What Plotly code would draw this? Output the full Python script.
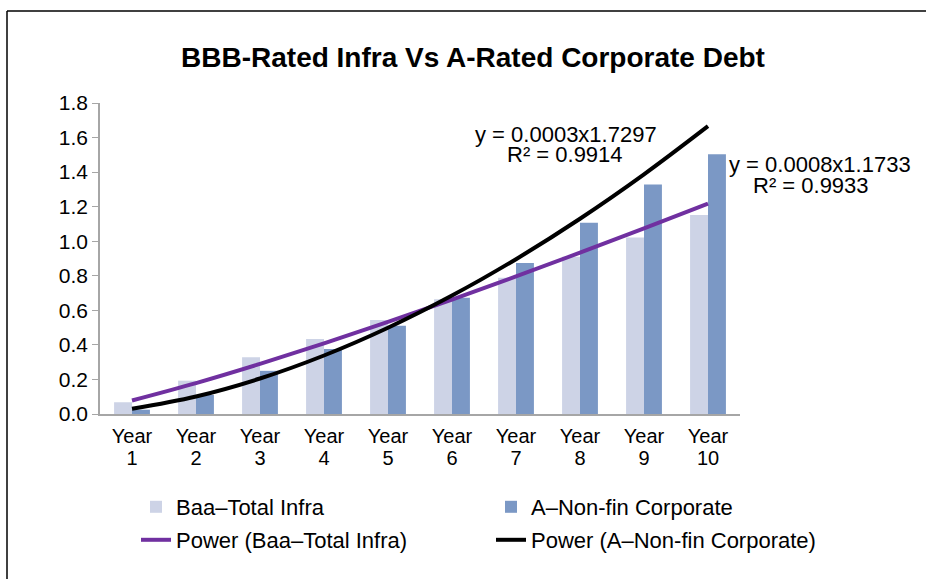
import numpy as np
import plotly.graph_objects as go

years = list(range(1, 11))
tick_word = ["Year"] * 10
tick_num = [str(i) for i in years]
baa_total_infra = [0.068, 0.193, 0.328, 0.434, 0.544, 0.664, 0.789, 0.910, 1.022, 1.152]
a_nonfin_corp = [0.025, 0.110, 0.250, 0.376, 0.511, 0.673, 0.874, 1.107, 1.329, 1.503]
y_ticks = [0.0, 0.2, 0.4, 0.6, 0.8, 1.0, 1.2, 1.4, 1.6, 1.8]
eq_a_lines = ["y = 0.0003x1.7297", "R² = 0.9914"]
eq_baa_lines = ["y = 0.0008x1.1733", "R² = 0.9933"]

FONT = "Liberation Sans, Arial, sans-serif"


def power_fit(x, y):
    b, ln_a = np.polyfit(np.log(x), np.log(y), 1)
    xs = np.array(x, dtype=float)
    return (np.exp(ln_a) * xs ** b).tolist()


fit_baa = power_fit(years, baa_total_infra)
fit_a = power_fit(years, a_nonfin_corp)

fig = go.Figure()
fig.add_trace(go.Bar(x=years, y=baa_total_infra, name="Baa–Total Infra",
                     marker=dict(color="#CDD3E6", line=dict(width=0)), legend="legend"))
fig.add_trace(go.Bar(x=years, y=a_nonfin_corp, name="A–Non-fin Corporate",
                     marker=dict(color="#7B98C5", line=dict(width=0)), legend="legend2"))
fig.add_trace(go.Scatter(x=years, y=fit_baa, mode="lines", name="Power (Baa–Total Infra)",
                         line=dict(color="#7030A0", width=4, shape="spline"), legend="legend3"))
fig.add_trace(go.Scatter(x=years, y=fit_a, mode="lines", name="Power (A–Non-fin Corporate)",
                         line=dict(color="#000000", width=4, shape="spline"), legend="legend4",
                         xaxis="x2"))

W, H = 926, 579
L, R, T, B = 100, W - 740, 103, H - 414
pw, ph = W - L - R, H - T - B


def px(x):
    return (x - L) / pw


def py(y):
    return (H - B - y) / ph


legend_font = dict(family=FONT, size=22, color="#000000")
leg_common = dict(font=legend_font, bgcolor="rgba(0,0,0,0)", yanchor="middle", xanchor="left",
                  itemwidth=30, borderwidth=0)
ann_font = dict(family=FONT, size=22, color="#000000")


def ann(text, x, y):
    return dict(text=text, x=px(x), y=py(y), xref="paper", yref="paper", showarrow=False,
                xanchor="center", yanchor="middle", font=ann_font)


fig.update_layout(
    width=W, height=H,
    margin=dict(l=L, r=R, t=T, b=B),
    paper_bgcolor="white", plot_bgcolor="white",
    barmode="group", bargap=0.44, bargroupgap=0,
    title=dict(text="<b>BBB-Rated Infra Vs A-Rated Corporate Debt</b>",
               font=dict(family=FONT, size=28, color="#000000"),
               x=473 / W, xanchor="center", xref="container",
               y=1 - 57 / H, yanchor="middle", yref="container"),
    xaxis=dict(range=[0.5, 10.5], tickmode="array", tickvals=years, ticktext=tick_word,
               showline=True, linecolor="#A6A6A6", linewidth=1.5, ticks="", showgrid=False,
               zeroline=False, ticklabelstandoff=3,
               tickfont=dict(family=FONT, size=20, color="#000000")),
    xaxis2=dict(range=[0.5, 10.5], overlaying="x", anchor="y", side="bottom",
                tickmode="array", tickvals=years, ticktext=tick_num, ticklabelstandoff=30,
                showline=False, ticks="", showgrid=False, zeroline=False,
                tickfont=dict(family=FONT, size=20, color="#000000")),
    yaxis=dict(range=[0, 1.8], tickmode="array", tickvals=y_ticks, tickformat=".1f",
               showline=True, linecolor="#A6A6A6", linewidth=1.5, ticks="outside", ticklen=6,
               tickcolor="#A6A6A6", showgrid=False, zeroline=False,
               tickfont=dict(family=FONT, size=21, color="#000000")),
    legend=dict(x=px(136), y=py(507), **leg_common),
    legend2=dict(x=px(491), y=py(507), **leg_common),
    legend3=dict(x=px(136), y=py(540), **leg_common),
    legend4=dict(x=px(491), y=py(540), **leg_common),
    showlegend=True,
    annotations=[
        ann(eq_a_lines[0], 566, 134),
        ann(eq_a_lines[1], 565, 154),
        ann(eq_baa_lines[0], 820, 164),
        ann(eq_baa_lines[1], 811, 185),
    ],
    shapes=[
        dict(type="line", xref="paper", yref="paper", x0=px(7), x1=px(926), y0=py(11), y1=py(11),
             line=dict(color="#000000", width=1.5)),
        dict(type="line", xref="paper", yref="paper", x0=px(7), x1=px(7), y0=py(11), y1=py(579),
             line=dict(color="#000000", width=1.5)),
    ],
)

fig.write_html("out.html", config={"displayModeBar": False},
               post_script="document.body.style.margin='0';document.body.style.overflow='hidden';")
